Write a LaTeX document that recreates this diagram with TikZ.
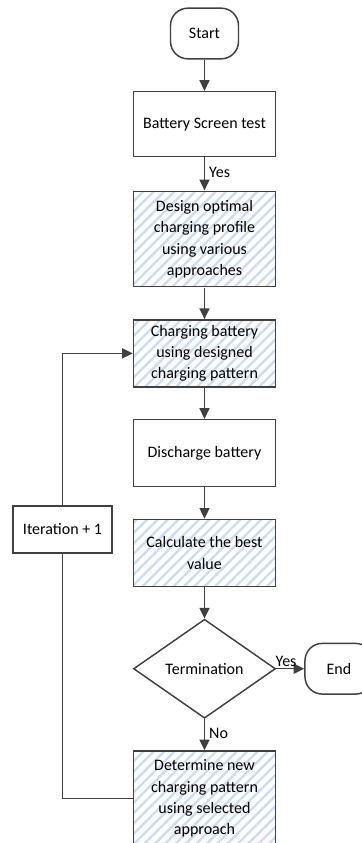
\documentclass[tikz,border=0pt]{standalone}
\usepackage{tikz}
\usetikzlibrary{positioning,arrows.meta,shapes.geometric,patterns.meta}
\usepackage{fontspec}
\setmainfont{Carlito}
\definecolor{linegray}{RGB}{64,64,64}
\definecolor{hatchblue}{RGB}{204,221,240}

\begin{document}
\begin{tikzpicture}[x=0.75pt,y=-0.75pt,>={Triangle[length=8pt,width=7.5pt]},%
		node distance=23.5pt,%
		every node/.style={font=\fontsize{12}{16}\selectfont},%
		line/.style={draw=linegray,line width=1.1pt},%
		box/.style={line,rectangle,align=center,inner sep=2pt,%
			minimum width=106.5pt,minimum height=50.25pt},%
		hatched/.style={box,pattern={Lines[angle=45,distance=5.5pt,line width=1.8pt]},%
			pattern color=hatchblue},%
		terminal/.style={line,rounded corners=13pt,minimum width=51pt,minimum height=38pt},%
		decision/.style={line,diamond,aspect=1.43,inner sep=0pt,%
			minimum width=106.5pt,minimum height=74.25pt}]
	\useasboundingbox (0,0) rectangle (361,843);
	% main column
	\node[terminal] (start) at (204.5,33.5) {Start};
	\node[box,minimum height=48.75pt,below=of start] (test) {Battery Screen test};
	\node[hatched,minimum height=71.25pt,below=24.75pt of test] (design)
		{Design optimal\\charging profile\\using various\\approaches};
	\node[hatched,below=of design] (charge)
		{Charging battery\\using designed\\charging pattern};
	\node[box,below=of charge] (discharge) {Discharge battery};
	\node[hatched,below=of discharge] (calc) {Calculate the best\\value};
	\node[decision,below=of calc] (term) {Termination};
	\node[terminal,right=21pt of term] (end) {End};
	\node[hatched,minimum height=71.25pt,below=of term] (det)
		{Determine new\\charging pattern\\using selected\\approach};
	\node[box,minimum width=74.25pt,minimum height=35.25pt] (iter) at (62.5,529.5) {Iteration + 1};
	% arrows
	\draw[line,->] (start) -- (test);
	\draw[line,->] (test) -- node[right,inner sep=3pt,pos=.45] {Yes} (design);
	\draw[line,->] (design) -- (charge);
	\draw[line,->] (charge) -- (discharge);
	\draw[line,->] (discharge) -- (calc);
	\draw[line,->] (calc) -- (term);
	\draw[line,->] (term) -- node[above,inner sep=1pt,pos=.35] {Yes} (end);
	\draw[line,->] (term) -- node[right,inner sep=3pt,pos=.45] {No} (det);
	\draw[line] (det.west) -| (iter.south);
	\draw[line,->] (iter.north) |- (charge.west);
\end{tikzpicture}
\end{document}
